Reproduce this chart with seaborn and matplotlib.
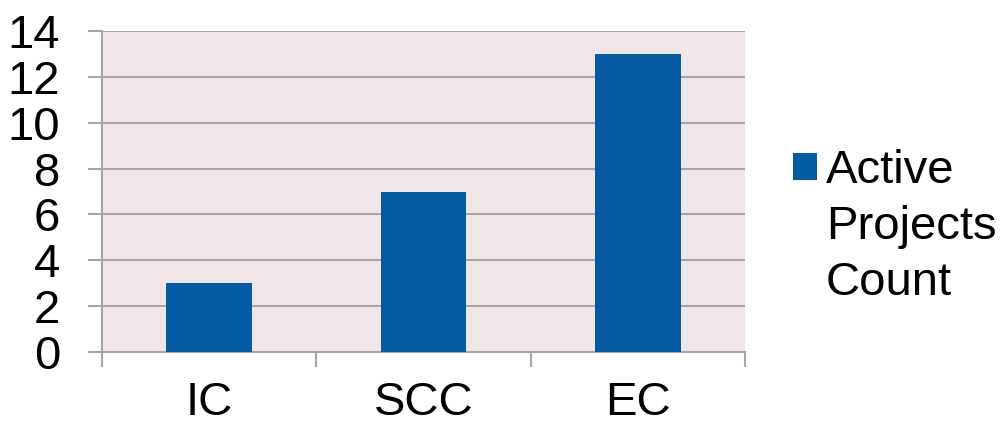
import matplotlib
matplotlib.use("Agg")
import matplotlib.pyplot as plt
import seaborn as sns
from matplotlib.patches import Patch
from matplotlib.ticker import FixedLocator

categories = ["IC", "SCC", "EC"]
values = [3, 7, 13]
yticks = [0, 2, 4, 6, 8, 10, 12, 14]
legend_lines = ["Active", "Projects", "Count"]

bar_color = "#055ba1"
bg_color = "#f0e6e7"
grid_color = "#a6a6a6"

sns.set_style("white")
plt.rcParams["font.family"] = ["Liberation Sans", "DejaVu Sans"]
plt.rcParams["text.color"] = "black"

fig = plt.figure(figsize=(10.04, 4.26), dpi=100)
ax = fig.add_axes([102 / 1004, 1 - 352 / 426, (745 - 102) / 1004, (352 - 31) / 426])
ax.set_facecolor(bg_color)

sns.barplot(x=categories, y=values, color=bar_color, saturation=1, width=0.4,
            linewidth=0, ax=ax, zorder=3)

ax.set_xlim(-0.5, 2.5)
ax.set_ylim(0, 14)
ax.set_yticks(yticks)
ax.set_yticklabels([str(v) for v in yticks])
ax.yaxis.grid(True, color=grid_color, linewidth=1.5, zorder=1)
ax.set_axisbelow(True)
ax.set_xlabel("")
ax.set_ylabel("")

for s in ["top", "right"]:
    ax.spines[s].set_visible(False)
for s in ["left", "bottom"]:
    ax.spines[s].set_color(grid_color)
    ax.spines[s].set_linewidth(1.5)

ax.tick_params(axis="y", which="major", length=10, width=1.5, color=grid_color,
               pad=20, labelsize=34, direction="out", left=True, labelcolor="black")
ax.tick_params(axis="x", which="major", length=0, pad=21, labelsize=34, labelcolor="black")
ax.xaxis.set_minor_locator(FixedLocator([-0.5, 0.5, 1.5, 2.5]))
ax.tick_params(axis="x", which="minor", length=11, width=1.5, color=grid_color,
               direction="out", bottom=True)

handles = [Patch(facecolor=bar_color, edgecolor="none"),
           Patch(facecolor="none", edgecolor="none"),
           Patch(facecolor="none", edgecolor="none")]
leg = ax.legend(handles, legend_lines, loc="upper left",
                bbox_to_anchor=(793 / 1004, 1 - 149 / 426), bbox_transform=fig.transFigure,
                frameon=False, fontsize=34, handlelength=0.5, handleheight=0.5,
                handletextpad=0.2, labelspacing=0.25, borderpad=0, borderaxespad=0)
for t in leg.get_texts():
    t.set_color("black")

fig.savefig("out.png", dpi=100)
